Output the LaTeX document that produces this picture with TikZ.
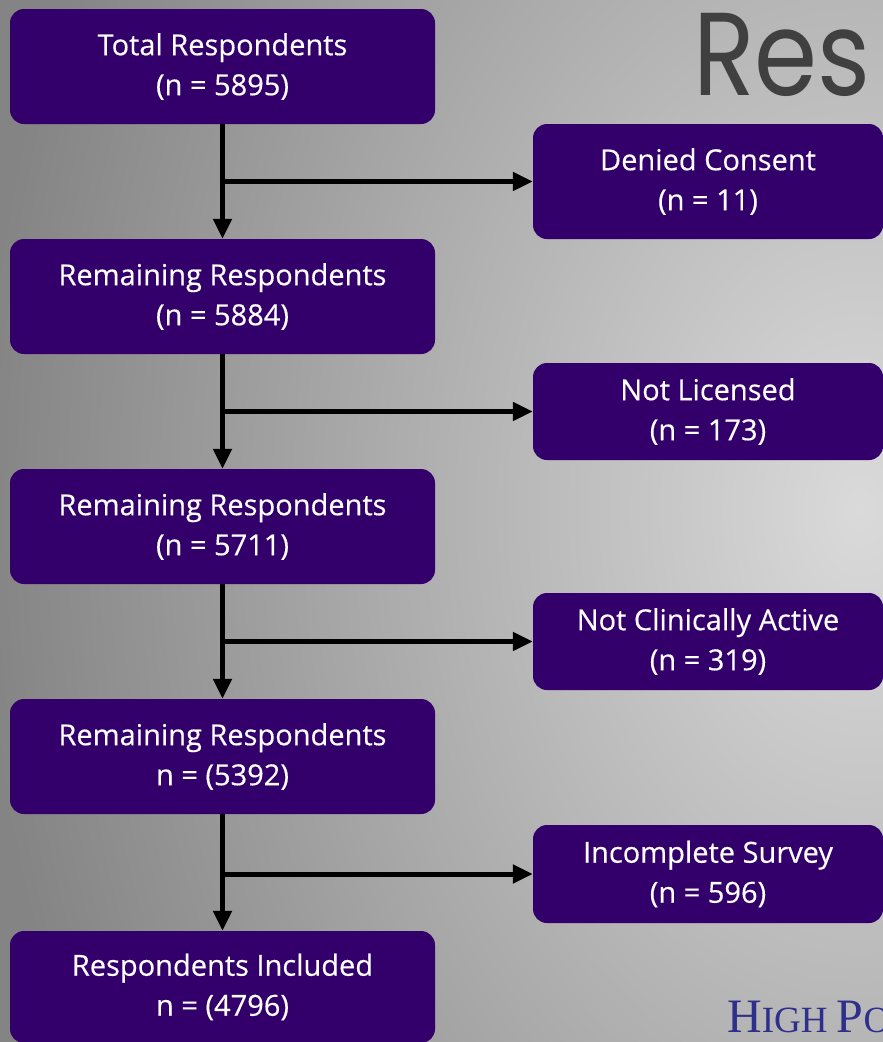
\documentclass[tikz,border=0pt]{standalone}
\usepackage{fontspec}
\setmainfont[FakeBold=0.35]{Open Sans}
\newfontfamily\titlefont{Poppins}
\newfontfamily\logofont{Liberation Serif}
\usetikzlibrary{arrows.meta}
\definecolor{boxpurple}{HTML}{33006B}
\definecolor{bglight}{HTML}{DADADA}
\definecolor{bgdark}{HTML}{848484}
\definecolor{titlegray}{HTML}{404040}
\definecolor{logoblue}{HTML}{2E2E8C}
\pgfdeclareradialshading{bgglow}{\pgfpoint{0bp}{0bp}}{color(0bp)=(bglight); color(25bp)=(bgdark); color(50bp)=(bgdark)}
\tikzset{
  boxl/.style={fill=boxpurple, rounded corners=14pt, text=white, align=center,
    minimum width=425pt, minimum height=115pt, inner sep=0pt,
    font=\fontsize{29}{40}\selectfont},
  boxr/.style={boxl, minimum width=350pt, minimum height=97pt,
    font=\fontsize{29}{40}\selectfont},
  flow/.style={line width=5pt, draw=black, -{Triangle[width=18pt,length=20pt]}},
}
\begin{document}
\begin{tikzpicture}[x=1pt,y=-1pt]
\useasboundingbox (0,0) rectangle (883,1042);
\begin{scope}
\clip (0,0) rectangle (883,1042);
\fill[bgdark] (0,0) rectangle (883,1042);
\shade[shading=bgglow] (860,510) ellipse [x radius=880pt, y radius=1250pt];

\node[anchor=base west, text=titlegray, inner sep=0pt,
  font=\titlefont\fontsize{118}{118}\selectfont] (title) at (693,95) {\scalebox{0.86}[1]{Res}};

\node[boxl] (b1) at (222.5,66.5) {Total Respondents\\(n = 5895)};
\node[boxl] (b2) at (222.5,296.5) {Remaining Respondents\\(n = 5884)};
\node[boxl] (b3) at (222.5,526.5) {Remaining Respondents\\(n = 5711)};
\node[boxl] (b4) at (222.5,756.5) {Remaining Respondents\\n = (5392)};
\node[boxl, minimum height=112pt] (b5) at (222.5,987) {Respondents Included\\n = (4796)};

\node[boxr, minimum height=115pt] (r1) at (708,181.5) {Denied Consent\\(n = 11)};
\node[boxr] (r2) at (708,411.5) {Not Licensed\\(n = 173)};
\node[boxr] (r3) at (708,641.5) {Not Clinically Active\\(n = 319)};
\node[boxr, minimum height=98pt] (r4) at (708,874) {Incomplete Survey\\(n = 596)};

\draw[flow] (b1.south) -- (b2.north);
\draw[flow] (b2.south) -- (b3.north);
\draw[flow] (b3.south) -- (b4.north);
\draw[flow] (b4.south) -- (b5.north);
\coordinate (j1) at (b1.south |- r1.west);
\coordinate (j2) at (b2.south |- r2.west);
\coordinate (j3) at (b3.south |- r3.west);
\coordinate (j4) at (b4.south |- r4.west);
\draw[flow] (j1) -- (r1.west);
\draw[flow] (j2) -- (r2.west);
\draw[flow] (j3) -- (r3.west);
\draw[flow] (j4) -- (r4.west);

\node[anchor=base west, inner sep=0pt, text=logoblue, font=\logofont] (logo) at (727,1032)
  {\fontsize{48}{48}\selectfont H\fontsize{37}{37}\selectfont IGH \fontsize{48}{48}\selectfont P\fontsize{37}{37}\selectfont O};
\end{scope}
\end{tikzpicture}
\end{document}
